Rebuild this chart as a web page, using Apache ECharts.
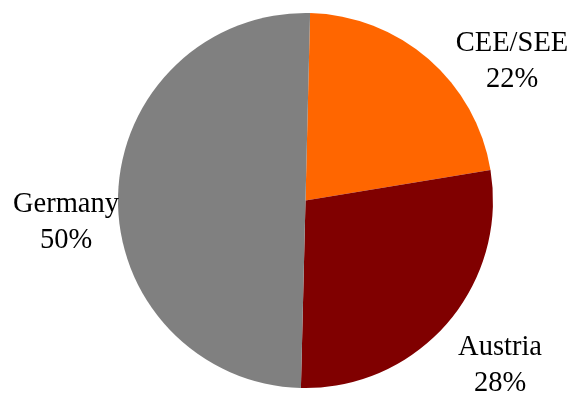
<!DOCTYPE html>
<html>
<head>
<meta charset="utf-8">
<script src="https://cdn.jsdelivr.net/npm/echarts@6/dist/echarts.min.js"></script>
<style>html,body{margin:0;padding:0;background:#fff;}#c{width:576px;height:397px;}</style>
</head>
<body>
<div id="c"></div>
<script>
const categories = ['CEE/SEE', 'Austria', 'Germany'];
const values = [22, 28, 50];
const colors = ['#FF6600', '#800000', '#808080'];
const labelPos = [[512, 62], [500, 366], [66, 223]];

const chart = echarts.init(document.getElementById('c'), null, {renderer: 'canvas'});
chart.setOption({
  animation: false,
  backgroundColor: '#ffffff',
  series: [{
    type: 'pie',
    center: [305.5, 200.5],
    radius: 187.5,
    startAngle: 88.6,
    clockwise: true,
    avoidLabelOverlap: false,
    data: categories.map((c, i) => ({name: c, value: values[i], itemStyle: {color: colors[i]}})),
    itemStyle: {borderWidth: 0},
    label: {
      show: true,
      position: 'outside',
      formatter: p => p.name + '\n' + p.value + '%',
      fontFamily: 'Liberation Serif',
      fontSize: 28.5,
      lineHeight: 36,
      color: '#000',
      align: 'center'
    },
    labelLine: {show: false},
    labelLayout: p => ({
      x: labelPos[p.dataIndex][0],
      y: labelPos[p.dataIndex][1],
      align: 'center',
      verticalAlign: 'middle'
    })
  }]
});
</script>
</body>
</html>
